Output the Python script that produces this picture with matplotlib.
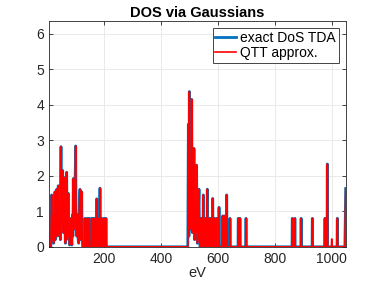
import numpy as np
import matplotlib
matplotlib.use("Agg")
import matplotlib.pyplot as plt

plt.rcParams['font.family'] = ['Liberation Sans', 'DejaVu Sans']

# dense low-energy part (eV, DoS)
ev_low = [5, 12, 13, 14.8, 16, 17, 18.5, 20.5, 21.5, 23, 24.5, 26.4, 27.5, 29, 30.5,
          32.4, 33.5, 35, 36.5, 38, 40, 42, 44, 45.5, 47.6, 48.5, 50, 51.5, 53.5, 55,
          56, 57.5, 59.2, 61, 63, 65, 66, 67.6, 69, 70, 71.5, 73.3, 75, 78, 80, 82.8,
          84, 86, 88, 89.5, 90.9, 92, 95, 97, 99.3, 100.5, 103, 104.5, 106.4, 108, 110,
          112, 114.5, 115.5, 117, 118.5, 120.4, 122, 124]
dos_low = [0, 0, 0.7, 1.46, 0.4, 0.2, 0.9, 0.8, 0.1, 0.3, 1.2, 1.55, 0.2, 0.4, 1.3,
           1.62, 0.3, 0.5, 1.4, 1.72, 0.6, 0.3, 1.1, 0.2, 2.82, 1.0, 0.6, 1.8, 2.15, 0.9,
           0.4, 1.2, 1.95, 0.6, 0.1, 0.9, 0.2, 2.1, 0.8, 0.3, 1.0, 1.5, 0.4, 0.05, 0.5, 0.8,
           0.2, 0.05, 0.9, 0.3, 1.92, 1.0, 0.5, 1.7, 2.84, 1.0, 0.3, 0.7, 0.9, 0.2, 0.1,
           1.0, 1.62, 0.4, 0.2, 0.9, 1.55, 0.3, 0]

# dense part around 500 eV
ev_mid = [490, 494, 495, 496, 497, 498, 499.4, 500.5, 502, 503, 504, 505.5, 507.8, 509,
          510, 511, 512, 514, 515.8, 517, 518, 519.5, 521, 523, 525, 526.5, 528, 531,
          533.5, 535, 537]
dos_mid = [0, 0, 1.8, 3.45, 1.2, 0.3, 4.37, 2.0, 0.5, 1.6, 2.0, 1.0, 4.15, 1.5,
           0.4, 1.1, 1.5, 0.6, 2.77, 0.8, 0.2, 0.9, 1.0, 0.4, 2.3, 0.6, 0.1, 0.8,
           1.62, 0.3, 0]

# isolated peaks
peak_ev = [132, 140, 147, 155.6, 161.3, 167.3, 173.3, 178, 184.9, 190.9, 199, 206,
           541, 548.6, 556, 562.7, 569.7, 575, 581.7, 587, 595, 604, 617, 623, 631, 642.6,
           671.8, 677.7, 699, 862, 871, 893, 932.6, 977, 985.3, 1020.5]
peak_dos = [0.8, 0.8, 0.8, 0.8, 0.8, 0.8, 1.35, 0.8, 1.65, 0.8, 0.8, 0.8,
            0.8, 1.46, 0.8, 1.62, 0.8, 0.8, 1.36, 0.8, 0.8, 1.11, 0.87, 0.87, 1.46, 0.8,
            0.8, 0.8, 0.8, 0.8, 0.8, 0.8, 0.8, 0.8, 2.33, 0.8]

# extra peak only in the QTT approximation
qtt_extra_ev = [1000.8]
qtt_extra_dos = [0.22]

# curve ends rising at the right edge
edge_ev = [1047, 1050]
edge_dos = [0, 1.64]


def build(pev, pdos, w=1.0):
    x = list(ev_low)
    y = list(dos_low)
    pts = sorted(zip(pev, pdos))
    mid_done = False
    for e, h in pts:
        if not mid_done and e > ev_mid[0]:
            x += ev_mid
            y += dos_mid
            mid_done = True
        x += [e - w, e - w * 0.3, e + w * 0.3, e + w]
        y += [0, h, h, 0]
    x += edge_ev
    y += edge_dos
    return np.array(x), np.array(y)


x_ex, y_ex = build(peak_ev, peak_dos)
x_qt, y_qt = build(peak_ev + qtt_extra_ev, peak_dos + qtt_extra_dos)

fig = plt.figure(figsize=(3.82, 2.86), dpi=100)
ax = fig.add_axes([0.128, 0.137, 0.777, 0.79])

ax.plot(x_ex, y_ex, color='#0072BD', lw=2, label='exact DoS TDA')
ax.plot(x_qt, y_qt, color='#FF0000', lw=1.2, label='QTT approx.')

ax.set_xlim(5, 1050)
ax.set_ylim(0, 6.36)
ax.set_xticks([200, 400, 600, 800, 1000])
ax.set_yticks([0, 1, 2, 3, 4, 5, 6])
ax.grid(True, color='#e6e6e6', lw=0.6)
ax.set_axisbelow(True)
ax.tick_params(direction='in', top=True, right=True, length=3, labelsize=10,
               colors='#262626', width=0.6)
for s in ax.spines.values():
    s.set_color('#262626')
    s.set_linewidth(0.6)

ax.set_title('DOS via Gaussians', fontsize=10.5, fontweight='bold', pad=3)
ax.set_xlabel('eV', fontsize=10.5, color='#262626', labelpad=0)

leg = ax.legend(loc='upper right', fontsize=10, handlelength=1.5, handletextpad=0.3,
                borderpad=0.2, labelspacing=0.1, fancybox=False, framealpha=1,
                borderaxespad=0.5)
leg.get_frame().set_edgecolor('#262626')
leg.get_frame().set_linewidth(0.6)

fig.savefig('out.png', dpi=100)
